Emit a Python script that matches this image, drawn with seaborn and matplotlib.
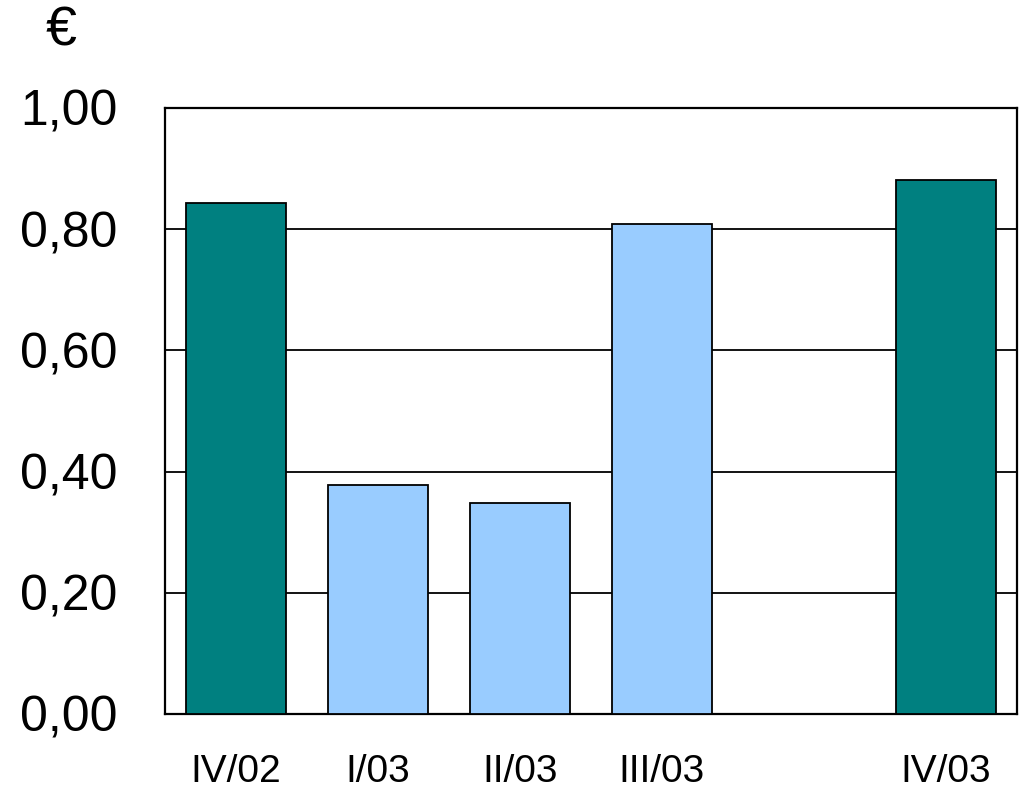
import matplotlib
matplotlib.use("Agg")
import matplotlib.pyplot as plt
import seaborn as sbn
import pandas as pd

# quarterly values in euro
quarters = ["IV/02", "I/03", "II/03", "III/03", "IV/03"]
values = [0.843, 0.378, 0.348, 0.808, 0.881]
bar_colors = ["#008080", "#99CCFF", "#99CCFF", "#99CCFF", "#008080"]
# empty slot between III/03 and IV/03
slot_order = ["IV/02", "I/03", "II/03", "III/03", " ", "IV/03"]
yticks = [0.0, 0.2, 0.4, 0.6, 0.8, 1.0]
ytick_labels = ["0,00", "0,20", "0,40", "0,60", "0,80", "1,00"]

sbn.set_style("white")
plt.rcParams['font.family'] = ['Liberation Sans', 'DejaVu Sans']
plt.rcParams['text.color'] = 'black'
plt.rcParams['xtick.color'] = 'black'
plt.rcParams['ytick.color'] = 'black'

df = pd.DataFrame({"quarter": quarters, "value": values})

fig = plt.figure(figsize=(10.21, 7.94), dpi=100)
ax = fig.add_axes([165 / 1021, 1 - 714 / 794, 852 / 1021, 606 / 794])

sbn.barplot(data=df, x="quarter", y="value", order=slot_order,
            hue="quarter", palette=dict(zip(quarters, bar_colors)),
            legend=False, width=0.71, edgecolor="black", linewidth=1.3,
            saturation=1, ax=ax, zorder=3)

ax.set_ylim(0, 1.0)
ax.set_yticks(yticks)
ax.set_yticklabels(ytick_labels)
ax.yaxis.grid(True, color="black", linewidth=1.3, zorder=0)
ax.set_axisbelow(True)
ax.set_xlabel("")
ax.set_ylabel("")
ax.tick_params(axis="y", length=0, pad=34, labelsize=36, labelcolor="black")
ax.tick_params(axis="x", length=0, pad=29, labelsize=28, labelcolor="black")
for sp in ax.spines.values():
    sp.set_visible(True)
    sp.set_color("black")
    sp.set_linewidth(1.6)

fig.text(61 / 1021, 1 - 31 / 794, "€", fontsize=40, ha="center", va="center",
         color="black")

fig.savefig("out.png", dpi=100)
